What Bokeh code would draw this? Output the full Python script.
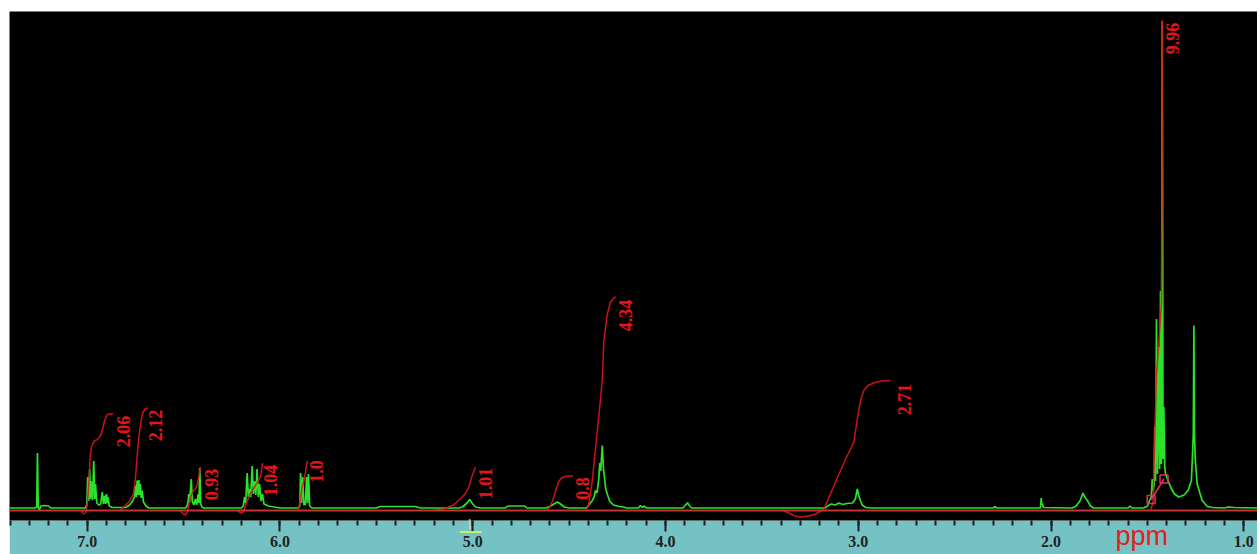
import math
from bokeh.plotting import figure
from bokeh.models import Range1d, SingleIntervalTicker, PrintfTickFormatter, Span, Label
from bokeh.core.properties import value
from bokeh.embed import file_html
from bokeh.resources import INLINE

# ---------------- data (chemical shift in ppm, intensity in arbitrary units) -------------
spec_ppm = [
    7.403, 7.27, 7.262, 7.258, 7.254, 7.248, 7.24, 7.22, 7.20, 7.19,
    7.01, 7.002, 6.997, 6.992, 6.987, 6.983, 6.979, 6.972, 6.966, 6.961, 6.957, 6.950, 6.940,
    6.930, 6.922, 6.916, 6.910, 6.905, 6.900, 6.896, 6.893, 6.885, 6.870,
    6.80, 6.78, 6.765, 6.755, 6.749, 6.745, 6.741, 6.737, 6.732, 6.728, 6.724, 6.720, 6.715,
    6.708, 6.695, 6.68,
    6.49, 6.482, 6.476, 6.473, 6.469, 6.460, 6.455, 6.447, 6.438, 6.432, 6.424, 6.420, 6.416,
    6.411, 6.405, 6.395,
    6.20, 6.19, 6.184, 6.178, 6.170, 6.164, 6.158, 6.152, 6.144, 6.138, 6.132, 6.125, 6.119,
    6.112, 6.106, 6.098, 6.091, 6.083, 6.06, 6.03, 6.0,
    5.905, 5.897, 5.893, 5.888, 5.882, 5.876, 5.868, 5.862, 5.857, 5.852, 5.846, 5.835,
    5.50, 5.48, 5.30, 5.27,
    5.07, 5.05, 5.03, 5.016, 5.00, 4.985, 4.96,
    4.83, 4.82, 4.73, 4.72,
    4.62, 4.60, 4.575, 4.56, 4.545, 4.525, 4.50,
    4.41, 4.406, 4.393, 4.380, 4.370, 4.363, 4.355, 4.346, 4.341, 4.336, 4.328, 4.322, 4.316,
    4.310, 4.302, 4.29, 4.27, 4.24, 4.22, 4.20,
    4.14, 4.13, 4.12, 4.11, 4.10,
    3.91, 3.90, 3.886, 3.875, 3.865,
    3.17, 3.16, 3.14, 3.12, 3.10, 3.08, 3.06, 3.03, 3.015, 3.005, 2.998, 2.99, 2.98, 2.96, 2.93,
    2.30, 2.29, 2.285,
    2.055, 2.051, 2.048, 2.044, 2.04,
    1.89, 1.87, 1.85, 1.834, 1.825, 1.81, 1.795, 1.78,
    1.60, 1.59, 1.58,
    1.52, 1.50, 1.49, 1.48, 1.475, 1.470, 1.465, 1.462, 1.458, 1.453, 1.448, 1.441, 1.437,
    1.432, 1.428, 1.423, 1.419, 1.415, 1.410, 1.406, 1.38, 1.36, 1.337, 1.31, 1.289,
    1.272, 1.266, 1.262, 1.259, 1.256, 1.252, 1.242, 1.216, 1.19, 1.16, 1.10, 1.08, 1.05, 0.929,
]
spec_int = [
    1, 1, 2, 56, 2, -1, 3, 3.5, 3, 1,
    1, 4, 32, 8, 40, 10, 28, 9, 48, 10, 25, 6, 4,
    5, 17, 5, 13.5, 5, 15, 6, 12, 3, 1.5,
    1.5, 4, 8, 12, 23.5, 12, 28.5, 14, 29, 14, 25, 11, 18.5,
    7, 3, 1,
    1, 3, 8, 15, 6, 30, 8, 4, 10, 4, 15, 6, 41,
    5, 2, 1,
    1, 3, 12, 6, 36, 12, 20, 12, 43, 15, 28, 14, 40,
    12, 25, 8, 15, 5, 3, 2, 1,
    1, 3, 36, 6, 32, 4, 5, 32, 6, 35, 3, 1,
    1, 2.5, 2.5, 1,
    1, 2.5, 6, 9.5, 5, 2, 1,
    1, 3, 3, 1,
    1, 2.5, 5.5, 7, 5, 2, 1,
    1, 2, 5, 8.5, 12, 18.5, 16, 30, 46, 38, 63.5, 40, 31,
    20, 15, 8, 4, 2.5, 2, 1,
    1, 3.5, 1.5, 3, 1,
    1, 3, 6.2, 3, 1,
    1, 3, 5, 4, 6, 4.5, 5.5, 6, 10, 20, 14, 9, 4, 1.5, 1,
    1, 2.5, 1,
    1, 11, 4, 5, 1.5,
    1, 3, 8, 16, 12, 8, 3, 1,
    1, 3, 1,
    1, 3, 8, 12, 30, 18, 25, 82, 28, 190, 35, 162, 40,
    218, 45, 488, 50, 102, 42, 35, 22, 15, 12, 14, 18.5,
    28.5, 55, 75, 183.5, 75, 50, 25, 8.5, 2.5, 1.5, 1, 2, 1.5, 1,
]

# integral curves (ppm, running integral height)
int_a_ppm = [7.03, 7.02, 7.005, 6.997, 6.99, 6.985, 6.978, 6.97, 6.962, 6.952, 6.94, 6.93, 6.92, 6.91, 6.90, 6.893, 6.88, 6.865]
int_a_val = [-1.5, -5, -3, 10, 30, 52, 62, 66, 68, 69, 71, 74, 80, 88, 93, 95, 95, 95]
int_b_ppm = [6.83, 6.80, 6.78, 6.76, 6.75, 6.74, 6.73, 6.72, 6.712, 6.70, 6.687]
int_b_val = [-1.5, 4, 8, 15, 30, 55, 75, 88, 96, 100, 101]
int_c_ppm = [6.52, 6.50, 6.49, 6.48, 6.465, 6.45, 6.435, 6.425, 6.418, 6.412]
int_c_val = [-1.5, -5, -6, -3, 12, 18, 21, 28, 36, 42]
int_d_ppm = [6.22, 6.205, 6.19, 6.18, 6.155, 6.128, 6.10, 6.09]
int_d_val = [-1.5, -4, -3, 3, 15, 23, 33, 46]
int_e_ppm = [5.905, 5.895, 5.885, 5.875, 5.865, 5.857]
int_e_val = [-1.5, 8, 22, 28, 40, 48]
int_f_ppm = [5.21, 5.15, 5.10, 5.065, 5.04, 5.02, 5.005, 4.99, 4.985]
int_f_val = [-1.5, 0, 4, 10, 15, 22, 32, 40, 42]
int_g_ppm = [4.615, 4.60, 4.585, 4.57, 4.555, 4.54, 4.52, 4.50, 4.48]
int_g_val = [-1.5, 2, 8.5, 18.5, 27, 31, 32.5, 33, 33]
int_h_ppm = [4.415, 4.40, 4.38, 4.354, 4.337, 4.328, 4.32, 4.302, 4.285, 4.268, 4.259]
int_h_val = [-1.5, 3, 28, 78, 110, 130, 168, 195, 207, 211, 212]
int_i_ppm = [3.39, 3.36, 3.33, 3.30, 3.26, 3.22, 3.179, 3.14, 3.10, 3.06, 3.023, 3.005, 2.989, 2.971, 2.95, 2.92, 2.88, 2.833]
int_i_val = [-1.5, -4, -7, -8, -7, -5, 0, 17, 35, 52, 67, 90, 108, 118.5, 123.5, 126, 128, 128.5]
int_j_ppm = [1.482, 1.470, 1.467, 1.462, 1.453, 1.441, 1.432, 1.427, 1.424, 1.423]
int_j_val = [-1.5, 8.5, 35, 72, 135, 165, 192, 208, 308, 488.5]

integral_labels = ["2.06", "2.12", "0.93", "1.04", "1.0", "1.01", "0.8", "4.34", "2.71", "9.96"]
label_ppm = [6.811, 6.645, 6.355, 6.049, 5.810, 4.933, 4.430, 4.207, 2.759, 1.370]
label_int = [77.5, 83.5, 24.5, 28.5, 37.5, 25.5, 20.5, 193.5, 109.5, 470.5]

marker_ppm = [1.481, 1.414]
marker_int = [9.5, 30]

# ---------------- figure -------------
p = figure(frame_width=1248, frame_height=509,
           x_range=Range1d(7.403, 0.929), y_range=Range1d(-11.5, 497.5),
           y_axis_location=None, output_backend="svg", toolbar_location=None,
           background_fill_color="black", border_fill_color="#74c2c4",
           outline_line_color=None, min_border_left=0, min_border_right=0,
           min_border_top=0, min_border_bottom=32, margin=(11, 0, 0, 9))
p.xgrid.visible = False
p.ygrid.visible = False

ax = p.xaxis[0]
ax.ticker = SingleIntervalTicker(interval=1, num_minor_ticks=10)
ax.formatter = PrintfTickFormatter(format="%.1f")
ax.axis_line_color = None
ax.major_tick_line_color = "#1e1e1e"
ax.major_tick_line_width = 2
ax.major_tick_in = 0
ax.major_tick_out = 11
ax.minor_tick_line_color = "#1e1e1e"
ax.minor_tick_line_width = 2
ax.minor_tick_in = 0
ax.minor_tick_out = 5
ax.major_label_text_font = "Liberation Serif"
ax.major_label_text_font_style = "bold"
ax.major_label_text_font_size = "16px"
ax.major_label_text_color = "#222222"
ax.major_label_standoff = 4

# red integral baseline
p.add_layout(Span(location=-1.5, dimension="width", line_color="#c83232", line_width=2))

# spectrum
p.line(spec_ppm, spec_int, line_color="#2ae22a", line_width=1.7)

# integrals
xs = [int_a_ppm, int_b_ppm, int_c_ppm, int_d_ppm, int_e_ppm, int_f_ppm, int_g_ppm, int_h_ppm, int_i_ppm, int_j_ppm]
ys = [int_a_val, int_b_val, int_c_val, int_d_val, int_e_val, int_f_val, int_g_val, int_h_val, int_i_val, int_j_val]
p.multi_line(xs, ys, line_color="#e0141c", line_width=1.5, line_alpha=0.9)

# integration handles
p.line(marker_ppm, marker_int, line_color="#e0305a", line_width=1.5)
p.scatter(marker_ppm, marker_int, marker="square", size=8, fill_color=None,
          line_color="#e0305a", line_width=1.5)

# integral values
p.text(x=label_ppm, y=label_int, text=integral_labels, angle=math.pi / 2,
       text_font=value("Liberation Serif"), text_font_style="bold", text_font_size="18px",
       text_color="#e8141c", text_align="center", text_baseline="middle")

# reference marker under the axis (canvas pixel units, in the bottom side panel)
p.add_layout(Label(x=461, y=519.5, x_units="canvas", y_units="canvas", text="\u2014",
                   text_font="DejaVu Sans", text_font_size="24px", text_color="#d2ee72",
                   text_align="center", text_baseline="alphabetic"), "below")
p.add_layout(Label(x=460, y=512, x_units="canvas", y_units="canvas", text="|",
                   text_font="DejaVu Sans", text_font_style="bold", text_font_size="10px",
                   text_color="#d2ee72", text_align="center", text_baseline="alphabetic"), "below")

# axis title (canvas pixel units, in the bottom side panel)
p.add_layout(Label(x=1106, y=524.5, x_units="canvas", y_units="canvas", text="ppm",
                   text_font="Liberation Sans", text_font_size="27px", text_color="#dd2222",
                   text_baseline="alphabetic"), "below")

open("out.html", "w").write(file_html(p, INLINE))
